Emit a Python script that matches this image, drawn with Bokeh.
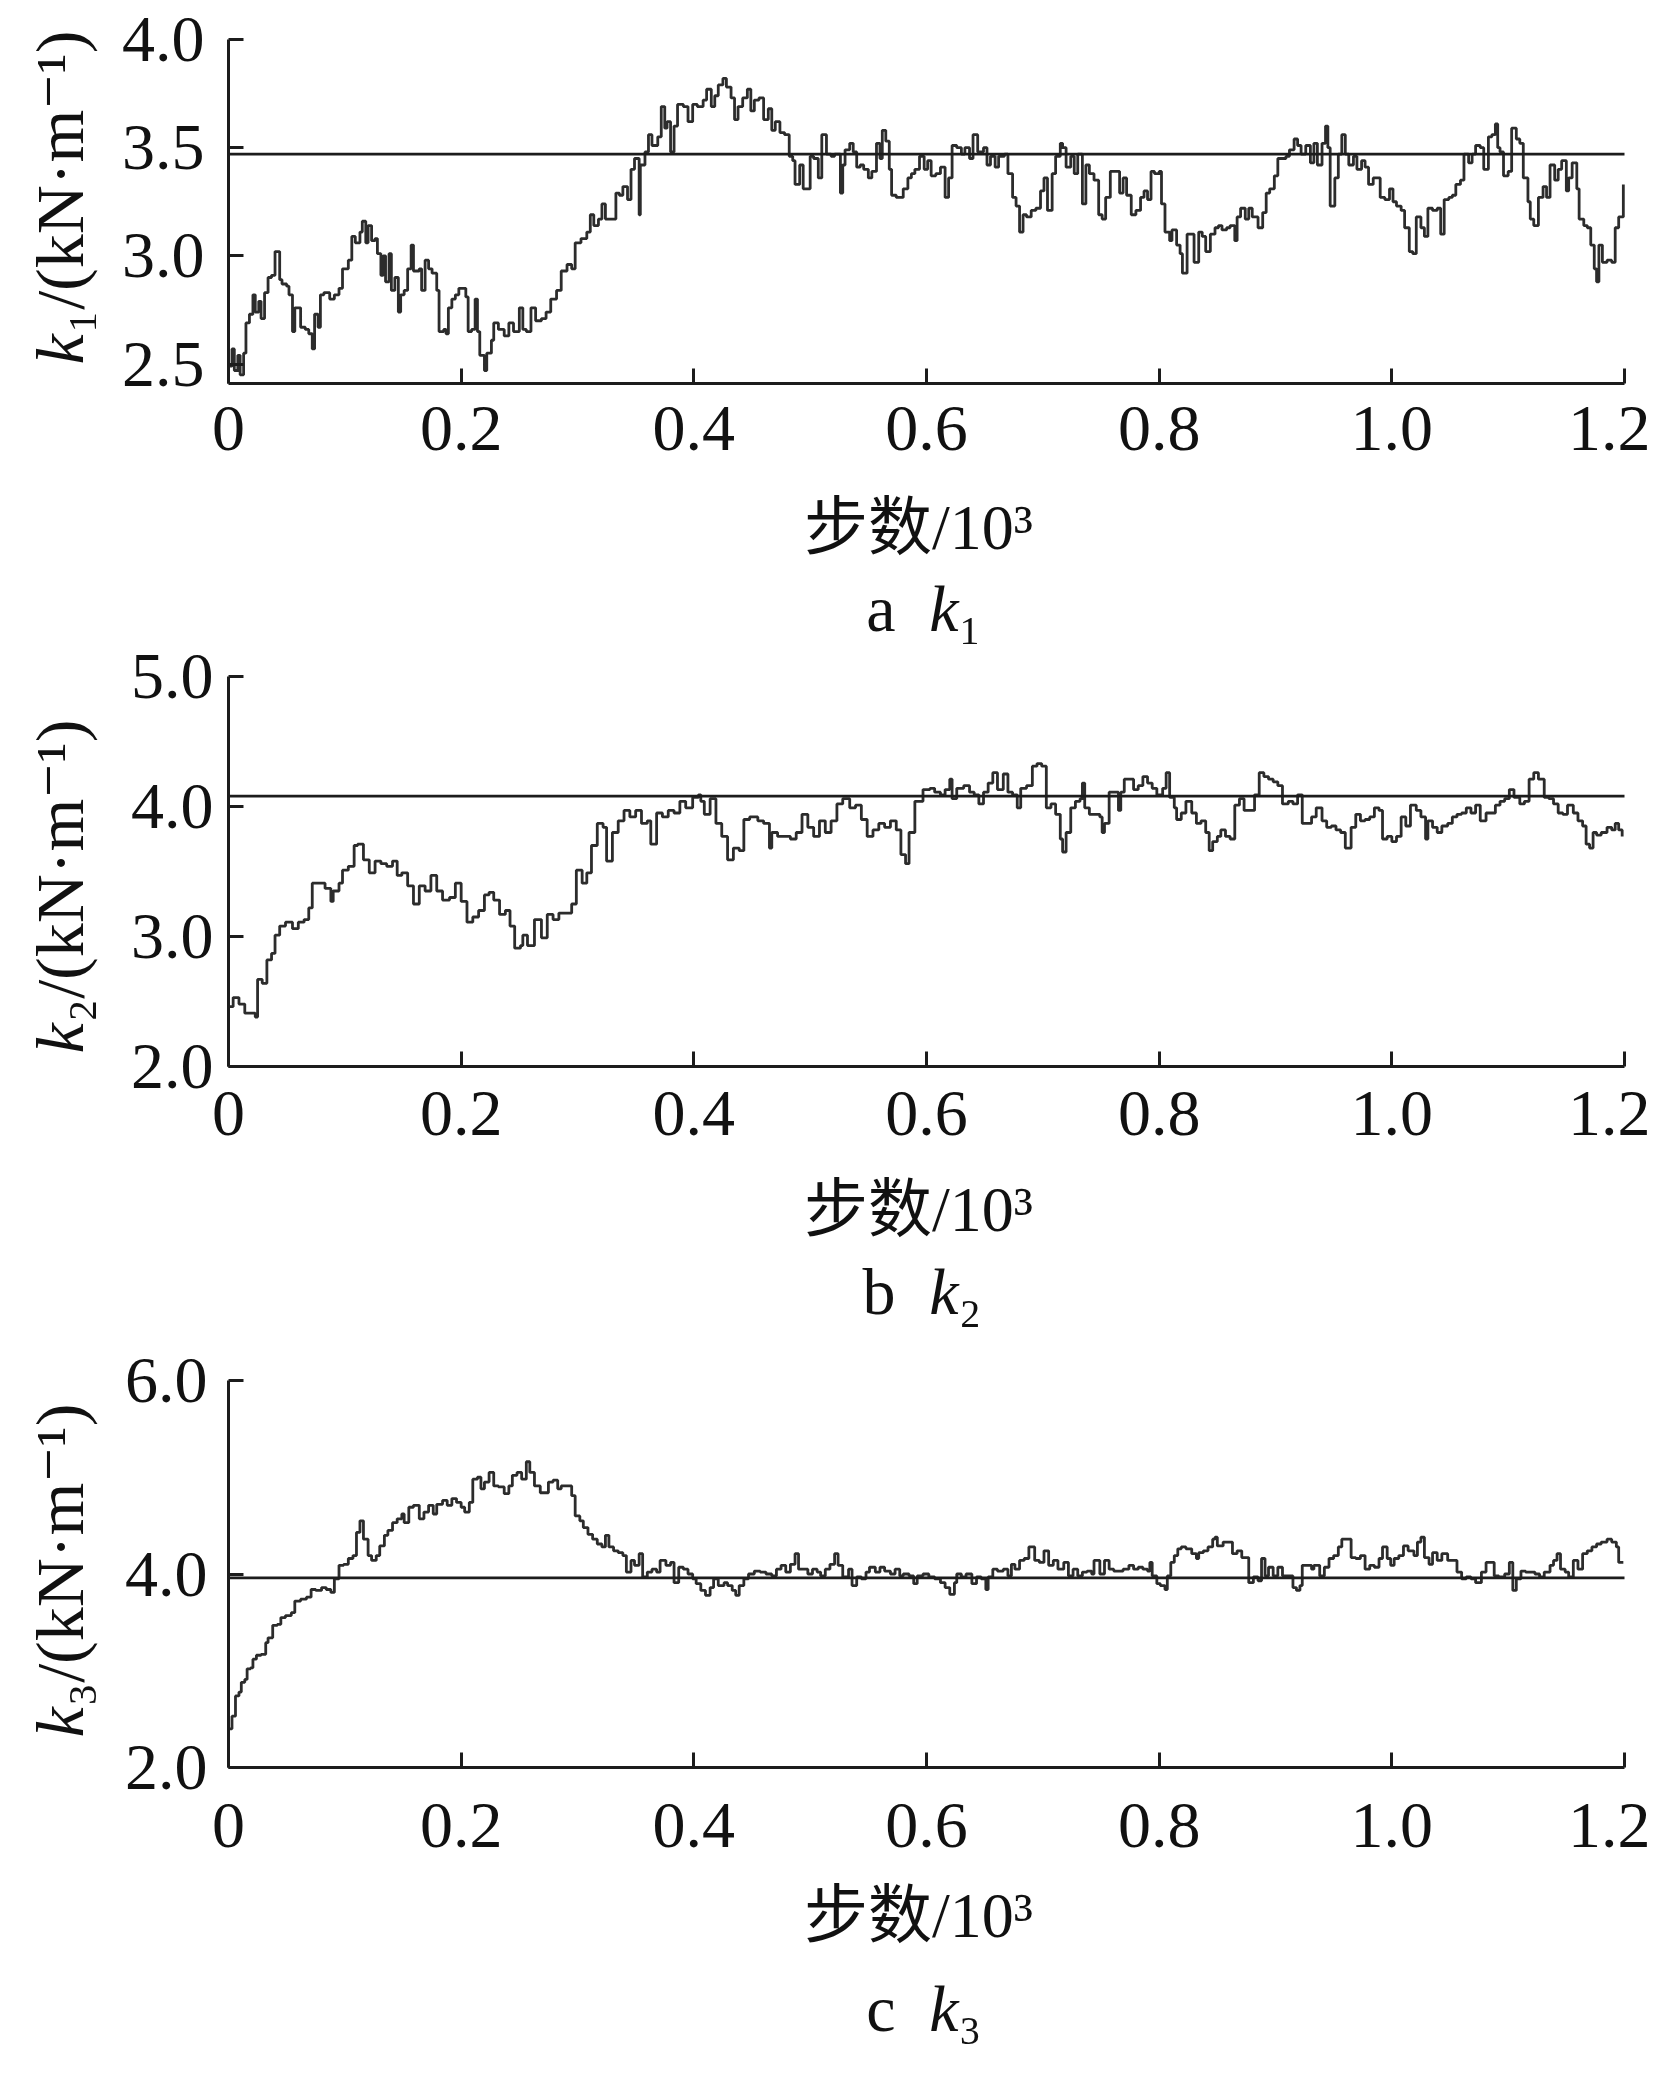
import math
from bokeh.plotting import figure
from bokeh.models import Range1d, FixedTicker, PrintfTickFormatter, Label
from bokeh.layouts import column
from bokeh.embed import file_html
from bokeh.resources import INLINE

# ---------------- data ----------------
x_ticks = [0, 0.2, 0.4, 0.6, 0.8, 1.0, 1.2]

k1_steps = [0,3,5,8,10,13,15,18,21,23,26,28,31,34,37,40,42,44,46,50,52,55,57,62,66,69,72,74,77,79,
            82,87,91,95,98,103,106,109,113,115,118,120,123,126,128,131,133,135,138,140,143,146,148,151,154,157,159,164,166,169,
            172,175,179,181,185,187,189,192,195,198,201,204,206,209,212,214,216,220,222,226,228,232,237,241,245,250,253,256,260,264,
            269,273,277,282,286,291,295,298,303,308,311,314,318,321,324,329,333,336,339,343,346,349,353,354,358,361,364,369,372,375,
            377,380,383,386,391,395,399,403,408,411,415,418,421,425,428,432,435,438,442,446,449,452,456,460,464,467,470,474,478,482,
            485,487,491,494,498,500,503,507,510,514,518,
            521,526,528,530,534,537,540,543,546,550,553,557,560,562,565,568,570,574,578,580,584,587,590,594,598,601,604,608,612,616,
            619,622,626,630,633,637,640,644,649,652,655,659,662,667,670,674,677,680,683,686,690,694,698,701,704,708,711,715,717,720,
            724,727,730,734,737,740,744,748,751,754,758,762,766,769,772,776,780,784,787,790,793,796,800,802,805,809,811,815,818,820,
            824,827,830,834,837,840,844,848,851,854,858,861,865,867,870,874,877,880,885,889,892,895,899,902,905,909,912,916,919,922,
            926,930,933,936,940,943,945,947,951,954,957,960,963,967,970,974,977,980,984,987,990,994,998,1001,1004,1008,1011,1015,1018,1021,
            1025,1028,1031,1035,1039,1042,1045,1049,1052,1055,1059,1062,1066,1069,1072,1076,1079,1083,1086,1089,1091,1093,1096,1100,1103,1107,1110,1113,1117,1119,
            1122,1126,1130,1133,1136,1140,1143,1146,1150,1152,1155,1159,1161,1165,1168,1171,1174,1176,1178,1181,1185,1189,1192,1195,1199]
k1_values = [2.49,2.57,2.47,2.54,2.45,2.55,2.69,2.73,2.82,2.74,2.79,2.71,2.83,2.90,2.91,3.02,3.02,2.89,2.87,2.86,
             2.82,2.65,2.76,2.67,2.66,2.64,2.57,2.73,2.67,2.82,2.83,2.80,2.82,2.85,2.94,2.98,3.09,3.06,3.11,3.16,
             3.06,3.14,3.07,3.08,3.01,2.91,3.00,2.88,3.01,2.84,2.90,2.74,2.82,2.84,2.94,3.05,2.93,2.94,2.84,2.98,
             2.94,2.92,2.84,2.65,2.66,2.64,2.76,2.80,2.82,2.85,2.85,2.81,2.65,2.66,2.80,2.65,2.54,2.47,2.55,2.61,
             2.69,2.66,2.63,2.69,2.65,2.76,2.66,2.65,2.76,2.70,2.71,2.74,2.80,2.84,2.93,2.96,2.94,3.06,3.08,3.11,
             3.19,3.14,3.17,3.24,3.17,3.17,3.29,3.28,3.32,3.26,3.40,3.45,3.19,3.42,3.48,3.56,3.51,3.55,3.69,3.59,
             3.62,3.48,3.60,3.70,3.69,3.62,3.70,3.69,3.72,3.77,3.69,3.74,3.79,3.82,3.78,3.73,3.63,3.69,3.73,3.77,
             3.67,3.72,3.73,3.63,3.68,3.58,3.62,3.57,3.56,3.46,3.44,3.33,3.42,3.31,3.31,3.46,3.45,3.36,3.56,3.47,
             3.46,
             3.47,3.29,3.42,3.49,3.52,3.48,3.41,3.42,3.40,3.36,3.39,3.52,3.45,3.58,3.53,3.40,3.28,3.27,3.27,3.31,
             3.36,3.38,3.40,3.46,3.40,3.44,3.37,3.38,3.41,3.27,3.36,3.51,3.50,3.47,3.50,3.45,3.56,3.48,3.50,3.42,
             3.46,3.41,3.46,3.47,3.38,3.27,3.23,3.11,3.19,3.18,3.21,3.22,3.30,3.36,3.21,3.38,3.46,3.52,3.50,3.41,
             3.46,3.38,3.47,3.24,3.42,3.38,3.35,3.19,3.17,3.27,3.39,3.39,3.29,3.36,3.28,3.19,3.21,3.27,3.30,3.26,
             3.39,3.38,3.39,3.24,3.11,3.07,3.12,3.05,3.01,2.92,3.10,3.10,2.97,3.11,3.09,3.02,3.10,3.13,3.14,3.12,
             3.13,3.14,3.07,3.18,3.22,3.17,3.22,3.18,3.13,3.20,3.29,3.31,3.37,3.45,3.45,3.46,3.49,3.54,3.51,3.47,
             3.51,3.43,3.52,3.42,3.52,3.60,3.50,3.23,3.36,3.47,3.56,3.47,3.42,3.46,3.40,3.44,3.41,3.33,3.36,3.36,
             3.27,3.26,3.31,3.25,3.23,3.21,3.13,3.02,3.01,3.18,3.13,3.09,3.22,3.21,3.22,3.10,3.26,3.27,3.28,3.33,
             3.35,3.47,3.43,3.47,3.51,3.50,3.40,3.55,3.56,3.61,3.50,3.48,3.37,3.39,3.59,3.54,3.52,3.36,3.25,3.17,
             3.14,3.27,3.32,3.27,3.42,3.35,3.40,3.44,3.30,3.36,3.43,3.31,3.17,3.14,3.13,3.05,2.94,2.88,3.05,2.97,
             2.98,2.97,3.13,3.18,3.33]
k1_reference = 3.47
k1_range = (2.41, 4.0)
k1_ticks = [2.5, 3.0, 3.5, 4.0]

k2_steps = [0,4,9,14,19,23,25,29,33,37,40,44,49,55,60,65,69,72,77,83,88,90,95,98,103,108,111,116,121,126,
            131,136,141,145,149,154,159,164,169,174,179,184,190,195,200,205,210,215,220,224,228,233,238,242,246,251,253,257,263,269,
            274,279,284,289,295,299,304,308,312,317,322,325,330,335,340,345,350,355,360,363,368,373,378,383,388,393,399,404,406,409,
            414,419,424,429,434,439,443,448,455,460,465,467,472,477,483,488,493,498,503,508,513,518,523,528,534,539,544,549,554,559,
            564,569,574,578,582,585,590,597,
            603,607,612,616,620,622,626,632,637,641,645,649,653,657,661,666,670,674,678,681,686,691,695,699,703,707,711,715,717,720,
            724,728,732,734,736,740,744,749,751,753,757,761,765,767,770,774,778,782,786,790,794,798,803,806,809,813,815,819,823,828,
            832,836,840,843,846,850,853,857,861,865,869,873,877,882,886,890,894,898,902,906,911,915,919,923,927,931,935,940,944,948,
            952,956,960,965,969,973,977,981,985,989,992,996,1000,1004,1008,1012,1016,1021,1025,1029,1031,1035,1039,1043,1048,1052,1056,1060,1064,1068,
            1072,1076,1081,1085,1089,1093,1097,1101,1105,1110,1114,1118,1122,1126,1131,1135,1139,1143,1147,1151,1156,1160,1164,1167,1170,1173,1176,1180,1185,1189,
            1192,1195,1198]
k2_values = [2.46,2.53,2.48,2.41,2.41,2.38,2.67,2.64,2.82,2.87,3.01,3.08,3.11,3.06,3.11,3.13,3.22,3.41,3.41,3.37,
             3.27,3.35,3.41,3.51,3.54,3.70,3.71,3.59,3.49,3.58,3.56,3.54,3.58,3.47,3.49,3.39,3.25,3.39,3.35,3.47,
             3.35,3.28,3.30,3.41,3.27,3.11,3.15,3.20,3.32,3.34,3.28,3.17,3.20,3.08,2.91,2.93,3.01,2.93,3.13,2.99,
             3.17,3.13,3.18,3.18,3.25,3.51,3.41,3.49,3.70,3.87,3.84,3.58,3.80,3.89,3.97,3.92,3.97,3.87,3.89,3.71,
             3.95,3.92,3.97,3.95,4.04,3.99,4.07,4.09,4.04,3.94,4.06,3.87,3.77,3.59,3.68,3.66,3.90,3.92,3.89,3.87,
             3.68,3.80,3.77,3.77,3.75,3.80,3.94,3.84,3.77,3.89,3.80,3.89,4.02,4.06,3.99,4.01,3.90,3.77,3.82,3.87,
             3.84,3.89,3.82,3.63,3.56,3.80,4.04,4.13,
             4.14,4.11,4.09,4.13,4.21,4.06,4.14,4.16,4.11,4.09,4.02,4.11,4.18,4.26,4.13,4.25,4.11,4.09,3.99,4.14,
             4.16,4.31,4.33,4.31,3.99,4.02,3.94,3.75,3.65,3.80,3.99,4.04,4.06,4.18,3.99,3.94,3.94,3.92,3.80,3.87,
             4.11,4.11,3.97,4.11,4.21,4.21,4.13,4.16,4.23,4.18,4.14,4.09,4.14,4.26,4.07,3.99,3.90,3.95,4.04,3.95,
             3.87,3.89,3.80,3.66,3.73,3.77,3.82,3.77,3.75,4.01,4.06,3.97,3.97,4.09,4.26,4.23,4.21,4.19,4.16,4.02,
             4.04,4.02,4.09,3.87,3.87,3.92,3.99,3.89,3.84,3.85,3.82,3.80,3.68,3.84,3.94,3.89,3.90,3.92,3.99,3.97,
             3.75,3.77,3.73,3.77,3.92,3.85,4.01,3.97,3.92,3.75,3.89,3.84,3.80,3.85,3.87,3.92,3.94,3.95,3.99,3.95,
             4.01,3.89,3.95,3.95,4.01,4.04,4.06,4.13,4.07,4.02,4.04,4.21,4.26,4.21,4.07,4.06,4.02,3.95,3.94,4.01,
             3.95,3.89,3.85,3.71,3.68,3.80,3.78,3.80,3.84,3.82,3.87,3.82,3.77]
k2_reference = 4.08
k2_range = (2.0, 5.0)
k2_ticks = [2.0, 3.0, 4.0, 5.0]

k3_steps = [0,3,6,9,11,14,16,19,21,24,28,32,34,38,42,45,49,54,57,62,67,71,75,80,84,88,91,95,99,103,
            107,110,113,116,120,123,127,130,134,137,141,145,149,151,155,159,164,168,172,176,179,184,188,192,196,200,203,207,210,214,
            217,220,224,228,232,237,241,244,248,252,256,259,263,268,271,275,279,283,286,291,295,298,302,305,309,313,317,321,324,327,
            331,335,339,342,346,349,353,356,360,364,368,371,376,380,383,387,391,395,399,402,406,410,414,417,421,426,429,433,436,439,
            443,447,452,457,462,467,471,475,479,483,487,490,494,498,502,506,509,513,517,521,524,528,533,536,540,544,548,551,556,560,
            564,569,573,577,580,585,589,592,597,602,
            603,607,612,616,620,624,626,630,634,639,643,647,651,653,657,661,666,670,673,676,680,684,688,693,697,701,705,709,713,718,
            722,726,730,734,738,742,744,749,753,757,761,765,769,774,778,782,786,790,792,794,798,801,805,807,810,813,816,819,823,828,
            832,834,838,842,846,848,850,855,859,863,867,871,875,877,881,885,888,891,894,898,902,906,911,915,918,921,923,927,931,933,
            938,942,946,950,954,957,960,965,969,973,977,981,985,989,992,996,999,1002,1006,1010,1014,1019,1022,1025,1028,1032,1035,1039,1043,1048,
            1052,1056,1060,1064,1068,1072,1077,1081,1085,1088,1092,1097,1101,1104,1107,1111,1115,1119,1123,1127,1131,1136,1139,1142,1145,1149,1152,1156,1160,1164,
            1168,1172,1176,1180,1185,1189,1193,1195,1199]
k3_values = [2.40,2.53,2.74,2.78,2.88,2.91,3.02,3.03,3.12,3.16,3.17,3.29,3.34,3.47,3.48,3.55,3.57,3.60,3.72,3.74,
             3.76,3.84,3.83,3.86,3.84,3.81,3.95,4.09,4.10,4.16,4.19,4.43,4.55,4.36,4.19,4.14,4.19,4.29,4.40,4.45,
             4.53,4.57,4.62,4.53,4.69,4.71,4.57,4.64,4.71,4.62,4.72,4.76,4.71,4.78,4.74,4.69,4.64,4.74,4.98,5.00,
             4.88,4.95,5.05,4.91,4.90,4.83,4.91,5.02,5.05,4.98,5.16,5.05,4.91,4.84,4.84,4.95,4.97,4.88,4.91,4.91,
             4.81,4.60,4.55,4.48,4.41,4.36,4.31,4.28,4.40,4.28,4.24,4.22,4.19,4.02,4.14,4.09,4.21,3.97,4.02,4.05,
             4.02,4.14,4.09,4.12,3.91,4.07,4.05,4.00,3.95,3.90,3.83,3.78,3.86,3.95,3.88,3.91,3.88,3.83,3.78,3.88,
             3.95,4.00,4.03,4.02,4.00,3.98,4.05,4.09,4.02,4.10,4.21,4.05,4.05,4.00,4.05,4.02,3.98,4.05,4.10,4.21,
             4.09,3.97,4.05,3.88,3.97,3.95,4.02,4.07,4.02,4.07,4.03,4.00,4.05,3.98,4.00,3.98,3.90,3.98,4.00,3.97,
             3.97,3.95,3.91,3.86,3.79,3.91,4.00,3.97,4.00,3.90,3.97,3.95,3.84,3.97,4.05,4.03,4.05,3.98,4.10,4.05,
             4.14,4.16,4.28,4.14,4.12,4.24,4.09,4.14,4.05,4.12,3.98,4.05,3.98,4.02,4.03,4.00,4.14,4.00,4.14,4.05,
             4.03,4.03,4.05,4.09,4.05,4.07,4.05,4.03,4.12,3.98,3.90,3.88,3.84,3.98,4.12,4.19,4.26,4.28,4.26,4.21,
             4.16,4.22,4.24,4.28,4.36,4.38,4.29,4.33,4.33,4.21,4.24,4.17,4.17,3.91,3.97,3.93,4.16,3.98,4.07,3.98,
             4.07,3.98,3.98,3.86,3.83,3.88,4.09,4.09,4.05,4.09,3.98,4.07,4.16,4.19,4.28,4.36,4.36,4.17,4.16,4.19,
             4.05,4.09,4.07,4.16,4.28,4.16,4.09,4.16,4.19,4.29,4.24,4.19,4.33,4.38,4.17,4.10,4.22,4.14,4.21,4.14,
             4.14,4.02,3.95,3.97,3.95,3.91,4.02,4.12,4.12,3.98,3.97,4.00,4.12,3.83,3.95,4.03,4.02,4.02,4.00,3.97,
             4.02,4.09,4.14,4.21,4.05,4.02,3.97,4.14,4.05,4.21,4.24,4.28,4.31,4.33,4.36,4.33,4.28,4.12,4.12]
k3_reference = 3.96
k3_range = (2.0, 6.0)
k3_ticks = [2.0, 4.0, 6.0]

x_label = "步数/10³"
y_unit = "/(kN·m⁻¹)"
panel_letters = ["a", "b", "c"]
subscripts = ["₁", "₂", "₃"]

# ---------------- style / layout ----------------
SERIF = "'Liberation Serif', 'DejaVu Serif', 'Noto Sans CJK SC'"
INK = "#1c1c1c"
LINE = "#2c2c2c"
TXT = "#111111"

PAGE_LEFT = 0                 # canvas left on the screenshot
CANVAS_W = 1650
AX_LEFT, AX_RIGHT = 228, 1624  # screenshot x of step 0 and step 1200
XMAX = x_ticks[-1]
LABEL_SHIFT = 21              # text-box baseline correction (px)


class Panel:
    def __init__(self, yr, geo):
        self.lo, self.hi = yr
        self.geo = geo
        self.spx = XMAX / (AX_RIGHT - AX_LEFT)
        self.spy = (self.hi - self.lo) / (geo["frame_bot"] - geo["frame_top"])

    def px_x(self, page_x):
        return (page_x - AX_LEFT) * self.spx

    def px_y(self, page_y):
        return self.lo + (self.geo["frame_bot"] - page_y) * self.spy


def make_panel(steps, vals, ref, yr, yticks, sub, geo):
    P = Panel(yr, geo)
    fig_top, fig_bot, fb = geo["fig_top"], geo["fig_bot"], geo["frame_bot"]
    lo, hi = yr
    p = figure(width=CANVAS_W, height=fig_bot - fig_top,
               x_range=Range1d(P.px_x(PAGE_LEFT), P.px_x(PAGE_LEFT + CANVAS_W)),
               y_range=Range1d(P.px_y(fig_bot), P.px_y(fig_top)),
               output_backend="svg", toolbar_location=None,
               min_border_left=0, min_border_right=0, min_border_top=0, min_border_bottom=0)
    p.grid.visible = False
    p.outline_line_color = None
    p.background_fill_color = "white"
    p.border_fill_color = "white"

    xs = [s / 1000.0 for s in steps]
    p.step(xs, vals, mode="after", line_color=LINE, line_width=2.8)
    p.line([x_ticks[0], x_ticks[-1]], [ref, ref], line_color=INK, line_width=2.8)

    xa, ya = p.xaxis[0], p.yaxis[0]
    for ax in (xa, ya):
        ax.axis_line_width = 3
        ax.axis_line_color = INK
        ax.major_tick_in = 15
        ax.major_tick_out = 0
        ax.major_tick_line_width = 3
        ax.major_tick_line_color = INK
        ax.minor_tick_in = 0
        ax.minor_tick_out = 0
        ax.major_label_text_font = SERIF
        ax.major_label_text_font_size = "66px"
        ax.major_label_text_color = TXT

    xa.fixed_location = lo
    xa.bounds = (x_ticks[0], x_ticks[-1])
    xa.ticker = FixedTicker(ticks=x_ticks)
    xa.formatter = PrintfTickFormatter(format="%.1f")
    xa.major_label_overrides = {0: "0"}
    xa.major_label_standoff = geo["xstand"]

    ya.fixed_location = 0
    ya.bounds = (lo, hi)
    ya.ticker = FixedTicker(ticks=yticks)
    ya.formatter = PrintfTickFormatter(format="%.1f")
    ya.major_label_standoff = geo["ystand"]

    # x axis title
    p.add_layout(Label(x=P.px_x(918), y=P.px_y(fb + geo["xlab"] - LABEL_SHIFT), text=x_label,
                       text_font=SERIF, text_font_size="64px", text_align="center",
                       text_baseline="alphabetic", text_color=TXT))

    # rotated y title: italic k + upright rest
    kb = geo["ykb"]
    yx = P.px_x(80 - LABEL_SHIFT)
    p.add_layout(Label(x=yx, y=P.px_y(kb), angle=math.pi / 2, text="k",
                       text_font=SERIF, text_font_size="68px", text_font_style="italic",
                       text_align="left", text_baseline="alphabetic", text_color=TXT))
    p.add_layout(Label(x=yx, y=P.px_y(kb - 31), angle=math.pi / 2, text=sub + y_unit,
                       text_font=SERIF, text_font_size="68px",
                       text_align="left", text_baseline="alphabetic", text_color=TXT))
    return p, P


def add_caption(p, P, letter, sub, baseline_page_y):
    cy = P.px_y(baseline_page_y - LABEL_SHIFT)
    p.add_layout(Label(x=P.px_x(895), y=cy, text=letter, text_font=SERIF, text_font_size="66px",
                       text_align="right", text_baseline="alphabetic", text_color=TXT))
    p.add_layout(Label(x=P.px_x(958), y=cy, text="k", text_font=SERIF, text_font_size="66px",
                       text_font_style="italic", text_align="right", text_baseline="alphabetic",
                       text_color=TXT))
    p.add_layout(Label(x=P.px_x(958), y=cy, text=sub, text_font=SERIF, text_font_size="66px",
                       text_align="left", text_baseline="alphabetic", text_color=TXT))


geo_a = dict(fig_top=0, fig_bot=567, frame_top=39, frame_bot=383,
             xstand=23, ystand=24, xlab=165, ykb=364)
geo_b = dict(fig_top=567, fig_bot=1341, frame_top=676, frame_bot=1066,
             xstand=25, ystand=15, xlab=164, ykb=1053)
geo_c = dict(fig_top=1341, fig_bot=2062, frame_top=1380, frame_bot=1767,
             xstand=36, ystand=21, xlab=169, ykb=1737)

pa, Pa = make_panel(k1_steps, k1_values, k1_reference, k1_range, k1_ticks, subscripts[0], geo_a)
pb, Pb = make_panel(k2_steps, k2_values, k2_reference, k2_range, k2_ticks, subscripts[1], geo_b)
pc, Pc = make_panel(k3_steps, k3_values, k3_reference, k3_range, k3_ticks, subscripts[2], geo_c)

# captions (caption "a" sits in the top margin of the second canvas)
add_caption(pb, Pb, panel_letters[0], subscripts[0], 383 + 246)
add_caption(pb, Pb, panel_letters[1], subscripts[1], 1066 + 246)
add_caption(pc, Pc, panel_letters[2], subscripts[2], 1767 + 262)

layout = column(pa, pb, pc, spacing=0)
open("out.html", "w").write(file_html(layout, INLINE))
